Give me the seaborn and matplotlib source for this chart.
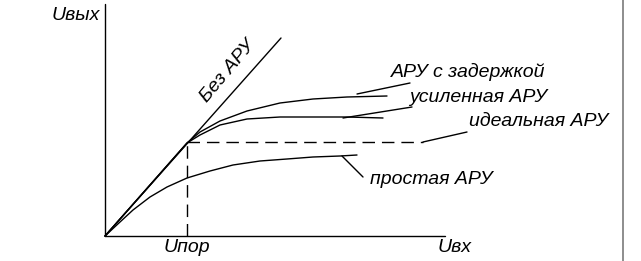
import matplotlib
matplotlib.use("Agg")
import matplotlib.pyplot as plt
import seaborn as sns
from matplotlib.lines import Line2D

sns.set_style("white")
plt.rcParams['font.family'] = ['Liberation Sans', 'DejaVu Sans']

# Curve data (input voltage, output voltage), arbitrary units
bez_x = [0, 176]
bez_y = [0, 198]

prostaya_x = [0, 15, 28, 45, 62, 82, 105, 128, 155, 182, 208, 235, 252]
prostaya_y = [0, 14, 26, 39, 49, 58, 65, 71, 75, 77, 79, 80, 81]

usil_x = [0, 82, 95, 115, 142, 175, 208, 242, 278]
usil_y = [0, 93, 101, 111, 117, 119, 119, 119, 118]

zad_x = [0, 82, 95, 115, 142, 175, 208, 242, 282]
zad_y = [0, 93, 104, 115, 125, 133, 137, 139, 140]

u_por = 82
ideal_level = 94
ideal_end = 318
x_axis_end = 340
y_axis_end = 232

labels = ["АРУ с задержкой", "усиленная АРУ", "идеальная АРУ", "простая АРУ"]
# leader lines: (x0, y0, x1, y1)
leader_zad = [252, 142, 305, 153]
leader_usil = [238, 118, 307, 129]
leader_ideal = [318, 94, 362, 104]
leader_prost = [237, 80, 258, 59]

fig = plt.figure(figsize=(6.41, 2.61), dpi=100)
ax = fig.add_axes([0, 0, 1, 1])
ax.set_xlim(-105, 536)
ax.set_ylim(-25, 236)
ax.axis("off")

kw = dict(ax=ax, sort=False, estimator=None, color="black", linewidth=1.0, legend=False)
sns.lineplot(x=bez_x, y=bez_y, **kw)
sns.lineplot(x=prostaya_x, y=prostaya_y, **kw)
sns.lineplot(x=usil_x, y=usil_y, **kw)
sns.lineplot(x=zad_x, y=zad_y, **kw)

# axes
sns.lineplot(x=[0, x_axis_end], y=[0, 0], **kw)
sns.lineplot(x=[0, 0], y=[0, y_axis_end], **kw)

# ideal (dashed)
ax.plot([u_por, ideal_end], [ideal_level, ideal_level], color="black", lw=1.0, dashes=(9, 5))
ax.plot([u_por, u_por], [0, ideal_level], color="black", lw=1.0, dashes=(9, 5))

for l in [leader_zad, leader_usil, leader_ideal, leader_prost]:
    sns.lineplot(x=[l[0], l[2]], y=[l[1], l[3]], **kw)

tk = dict(fontsize=14, style="italic", color="black")
ax.text(286, 164, labels[0], ha="left", va="center", **tk)
ax.text(304, 138, labels[1], ha="left", va="center", **tk)
ax.text(364, 115, labels[2], ha="left", va="center", **tk)
ax.text(265, 57, labels[3], ha="left", va="center", **tk)

ax.text(123, 165, "Без АРУ", rotation=50, ha="center", va="center", rotation_mode="anchor", **tk)

ax.text(-5, 221, "Uвых", ha="right", va="center", **tk)
ax.text(u_por, -11, "Uпор", ha="center", va="center", **tk)
ax.text(350, -11, "Uвх", ha="center", va="center", **tk)

fig.add_artist(Line2D([623/641, 623/641], [0, 1], color="#7a7a7a", lw=1.2))

fig.savefig("out.png", dpi=100)
